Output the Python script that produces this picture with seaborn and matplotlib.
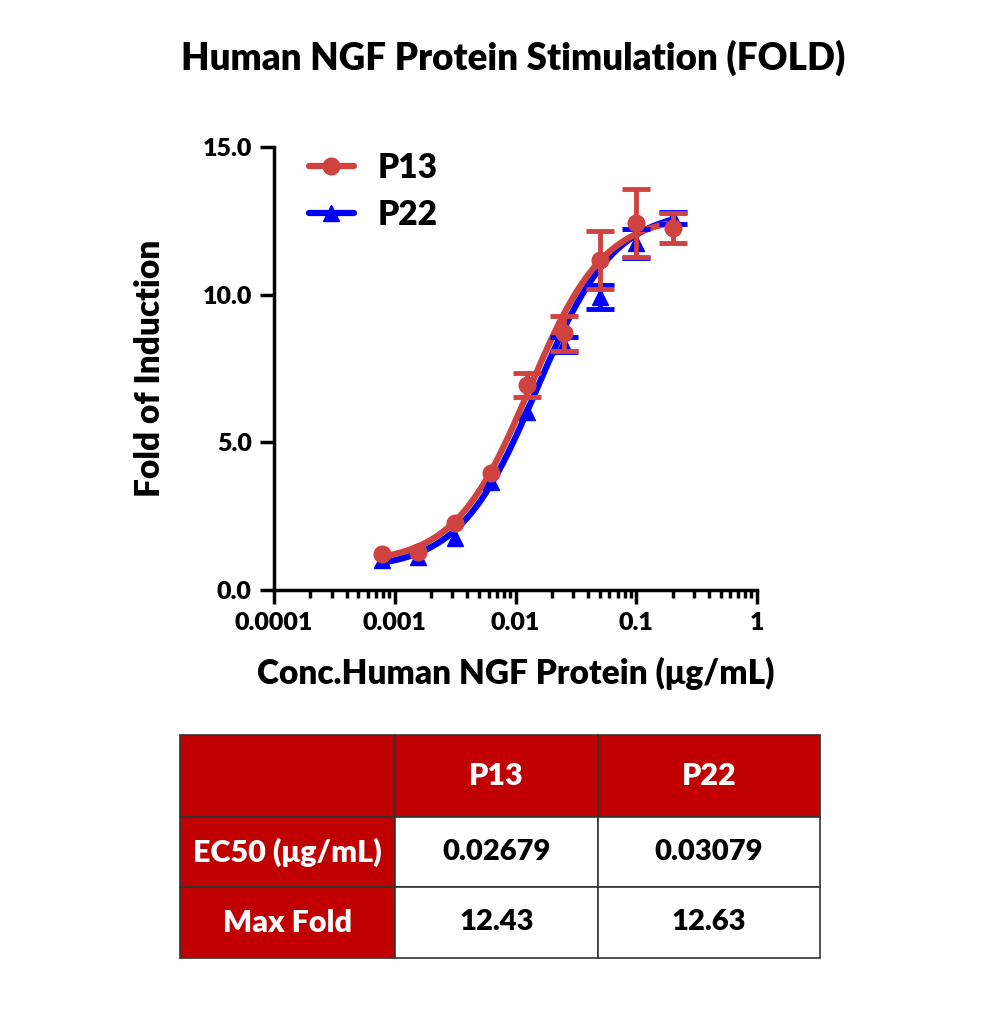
"""Dose-response curve for NGF protein stimulation with summary table."""

import matplotlib.pyplot as plt
import matplotlib.ticker as mticker
from matplotlib.lines import Line2D
import numpy as np
import pandas as pd
import seaborn as sns

# data
conc = [0.00078125, 0.0015625, 0.003125, 0.00625, 0.0125, 0.025, 0.05, 0.1, 0.2]
p13_fold = [1.22, 1.30, 2.26, 3.95, 6.94, 8.69, 11.17, 12.44, 12.25]
p13_err = [0.0, 0.0, 0.0, 0.0, 0.40, 0.60, 0.98, 1.15, 0.50]
p22_fold = [1.00, 1.13, 1.76, 3.67, 6.04, 8.30, 9.93, 11.74, 12.59]
p22_err = [0.0, 0.0, 0.0, 0.0, 0.0, 0.25, 0.40, 0.50, 0.20]

# four-parameter logistic fit parameters (bottom, top, ec50, hill) estimated from the curves
p13_fit = (0.9, 12.7, 0.013, 1.4)
p22_fit = (0.7, 12.9, 0.015, 1.35)

table_cols = ["", "P13", "P22"]
table_rows = ["EC50 (μg/mL)", "Max Fold"]
table_vals = [["0.02679", "0.03079"], ["12.43", "12.63"]]

RED = "#d0423f"
BLUE = "#0000ff"
DARK_RED = "#c00000"
W = "heavy"


def logistic(x, bottom, top, ec50, hill):
    return bottom + (top - bottom) / (1 + (ec50 / x) ** hill)


def draw_points(ax, x, y, err, marker, color, z):
    x, y, err = np.asarray(x), np.asarray(y), np.asarray(err)
    has_err = err > 0
    ax.errorbar(x[has_err], y[has_err], yerr=err[has_err], fmt="none", ecolor=color,
                elinewidth=3.5, capsize=10, capthick=3.5, zorder=z)
    ax.plot(x, y, linestyle="none", marker=marker, color=color, markersize=12, zorder=z)


sns.set_style("ticks")
plt.rcParams["font.family"] = ["Lato", "DejaVu Sans"]
plt.rcParams.update({
    "font.weight": W,
    "text.color": "black",
    "axes.labelcolor": "black",
    "axes.edgecolor": "black",
    "xtick.color": "black",
    "ytick.color": "black",
})

fig = plt.figure(figsize=(10, 10.16), dpi=100)
ax = fig.add_axes([0.274, 0.4193, 0.483, 0.436])

x_smooth = np.logspace(np.log10(conc[0]), np.log10(conc[-1]), 200)
curves = pd.concat(
    [
        pd.DataFrame({"conc": x_smooth, "fold": logistic(x_smooth, *p22_fit), "sample": "P22"}),
        pd.DataFrame({"conc": x_smooth, "fold": logistic(x_smooth, *p13_fit), "sample": "P13"}),
    ]
)
sns.lineplot(
    data=curves, x="conc", y="fold", hue="sample",
    palette={"P13": RED, "P22": BLUE}, linewidth=4.5, legend=False, ax=ax,
)

draw_points(ax, conc, p22_fold, p22_err, "^", BLUE, 3)
draw_points(ax, conc, p13_fold, p13_err, "o", RED, 4)

ax.set_xscale("log")
ax.set_xlim(0.0001, 1)
ax.set_ylim(0, 15)
ax.set_yticks([0, 5, 10, 15])
ax.yaxis.set_major_formatter(mticker.FormatStrFormatter("%.1f"))
ax.xaxis.set_major_locator(mticker.FixedLocator([0.0001, 0.001, 0.01, 0.1, 1]))
ax.set_xticklabels(["0.0001", "0.001", "0.01", "0.1", "1"])
ax.xaxis.set_minor_locator(mticker.LogLocator(base=10, subs=np.arange(2, 10)))
ax.xaxis.set_minor_formatter(mticker.NullFormatter())

for side in ["left", "bottom"]:
    ax.spines[side].set_linewidth(2.5)
sns.despine(ax=ax)
ax.tick_params(axis="both", which="major", width=2.5, length=10, labelsize=18, pad=6)
ax.tick_params(axis="x", which="minor", width=2.5, length=6)
for lab in ax.get_xticklabels() + ax.get_yticklabels():
    lab.set_fontweight(W)

ax.set_xlabel("Conc.Human NGF Protein (μg/mL)", fontsize=24, fontweight=W, labelpad=16)
ax.set_ylabel("Fold of Induction", fontsize=24, fontweight=W, labelpad=26)

handles = [
    Line2D([], [], color=RED, marker="o", markersize=12, linewidth=4.5),
    Line2D([], [], color=BLUE, marker="^", markersize=12, linewidth=4.5),
]
ax.legend(handles, ["P13", "P22"], loc="upper left", bbox_to_anchor=(0.01, 1.057),
          frameon=False, prop={"size": 24, "weight": W}, handlelength=1.35,
          labelspacing=0.45, handletextpad=0.7)

fig.text(0.513, 0.943, "Human NGF Protein Stimulation (FOLD)", ha="center", va="center",
         fontsize=26.5, fontweight=W)

# summary table
tax = fig.add_axes([0.18, (1016 - 958) / 1016, 0.64, 223 / 1016])
tax.axis("off")
cells = [table_cols] + [[r] + v for r, v in zip(table_rows, table_vals)]
tbl = tax.table(cellText=cells, bbox=[0, 0, 1, 1], colWidths=[215, 203, 222], cellLoc="center")
tbl.auto_set_font_size(False)
row_h = [82, 70, 71]
for (r, c), cell in tbl.get_celld().items():
    cell.set_edgecolor("#333333")
    cell.set_linewidth(1.2)
    cell.set_height(row_h[r] / 223)
    txt = cell.get_text()
    txt.set_fontweight(W)
    if r == 0 or c == 0:
        cell.set_facecolor(DARK_RED)
        txt.set_color("white")
        txt.set_fontsize(22)
    else:
        cell.set_facecolor("white")
        txt.set_color("black")
        txt.set_fontsize(21)

fig.savefig("out.png", dpi=100)
